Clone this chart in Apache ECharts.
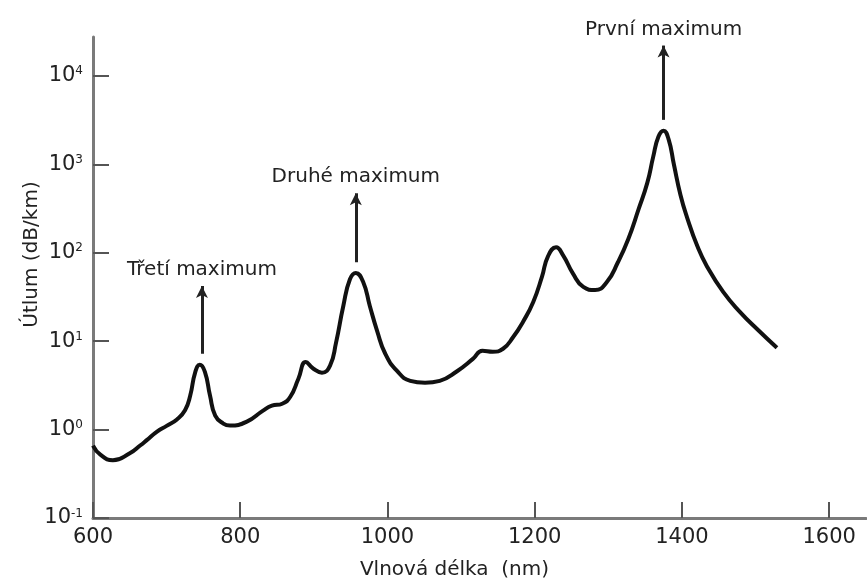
<!DOCTYPE html>
<html>
<head>
<meta charset="utf-8">
<script src="https://cdn.jsdelivr.net/npm/echarts@6/dist/echarts.min.js"></script>
<style>
  html, body { margin: 0; padding: 0; background: #fff; }
  #chart { width: 867px; height: 582px; }
</style>
</head>
<body>
<div id="chart"></div>
<script>
// Attenuation spectrum
const wavelengths = [600, 610, 627, 650, 664, 673, 687, 700, 714, 725,
  732, 739, 745, 752, 759, 766, 777, 786, 809, 831,
  843, 857, 868, 879, 889, 899, 911, 922, 930, 940,
  949, 957, 967, 976, 986, 997, 1013, 1031, 1051, 1071,
  1095, 1116, 1129, 1143, 1157, 1171, 1184, 1198, 1210, 1218,
  1229, 1239, 1252, 1266, 1282, 1298, 1313, 1327, 1341, 1353,
  1361, 1368, 1375, 1382, 1389, 1398, 1407, 1421, 1434, 1456,
  1479, 1502, 1529];
const attenuation = [0.66, 0.52, 0.45, 0.54, 0.66, 0.76, 0.95, 1.1, 1.3, 1.65,
  2.41, 4.5, 5.4, 4.5, 2.41, 1.44, 1.17, 1.11, 1.23, 1.64,
  1.86, 1.96, 2.35, 3.76, 5.8, 4.9, 4.4, 5.3, 9.5, 25,
  50, 59, 46.6, 25, 13, 7.2, 4.6, 3.56, 3.39, 3.56,
  4.6, 6.3, 7.8, 7.6, 8.2, 11.2, 16.5, 27.7, 54, 91,
  115, 92, 58, 41, 37.8, 46.6, 78, 142, 309, 620,
  1220, 2050, 2400, 1900, 1000, 450, 250, 118, 70, 36,
  21.3, 13.7, 8.4];

const xTicks = [600, 800, 1000, 1200, 1400, 1600];
const yTicks = [0.1, 1, 10, 100, 1000, 10000];

// Peak annotations (arrow from just above the peak up to the label)
const peakNames = ['Třetí maximum', 'Druhé maximum', 'První maximum'];
const peakWavelengths = [748, 957, 1375];
const arrowFrom = [7.2, 78, 3180];
const arrowTo = [42, 470, 22000];

const font = 'DejaVu Sans';
const textColor = '#222';

const chart = echarts.init(document.getElementById('chart'));

const option = {
  animation: false,
  backgroundColor: '#fff',
  grid: { left: 93, right: 1, top: 37, bottom: 64, outerBoundsMode: 'none' },
  xAxis: {
    type: 'value',
    min: 600,
    max: 1650,
    name: 'Vlnová délka  (nm)',
    nameLocation: 'middle',
    nameGap: 42,
    nameMoveOverlap: false,
    nameTextStyle: { fontFamily: font, fontSize: 20, color: textColor, padding: [0, 50, 0, 0] },
    splitLine: { show: false },
    axisLine: { lineStyle: { color: '#7a7a7a', width: 3 } },
    axisTick: {
      inside: true, length: 16, customValues: xTicks,
      lineStyle: { color: '#555', width: 2 }
    },
    axisLabel: {
      customValues: xTicks, margin: 9,
      formatter: v => String(v),
      fontFamily: font, fontSize: 21, color: textColor
    }
  },
  yAxis: {
    type: 'log',
    logBase: 10,
    min: 0.1,
    max: 27500,
    name: 'Útlum (dB/km)',
    nameLocation: 'middle',
    nameGap: 51,
    nameMoveOverlap: false,
    nameTextStyle: { fontFamily: font, fontSize: 20, color: textColor, padding: [0, 0, 0, 46] },
    splitLine: { show: false },
    axisLine: { show: true, lineStyle: { color: '#7a7a7a', width: 3 } },
    axisTick: {
      show: true, inside: true, length: 16, customValues: yTicks,
      lineStyle: { color: '#555', width: 2 }
    },
    axisLabel: {
      customValues: yTicks,
      margin: 10,
      formatter: function (v) {
        return '{b|10}{s|' + Math.round(Math.log10(v)) + '}';
      },
      rich: {
        b: { fontFamily: font, fontSize: 21, color: textColor },
        s: { fontFamily: font, fontSize: 12, color: textColor, verticalAlign: 'top' }
      }
    }
  },
  series: [
    {
      type: 'line',
      data: wavelengths.map((w, i) => [w, attenuation[i]]),
      smooth: 0.5,
      showSymbol: false,
      silent: true,
      lineStyle: { color: '#111', width: 4 },
      markLine: {
        silent: true,
        symbol: ['none', 'arrow'],
        symbolSize: [9, 12],
        lineStyle: { color: '#222', width: 3, type: 'solid' },
        label: {
          show: true,
          position: 'end',
          distance: 6,
          formatter: '{b}',
          fontFamily: font,
          fontSize: 20,
          color: textColor
        },
        data: peakNames.map((name, i) => [
          { name: name, coord: [peakWavelengths[i], arrowFrom[i]] },
          { coord: [peakWavelengths[i], arrowTo[i]] }
        ])
      }
    }
  ]
};

chart.setOption(option);
</script>
</body>
</html>
